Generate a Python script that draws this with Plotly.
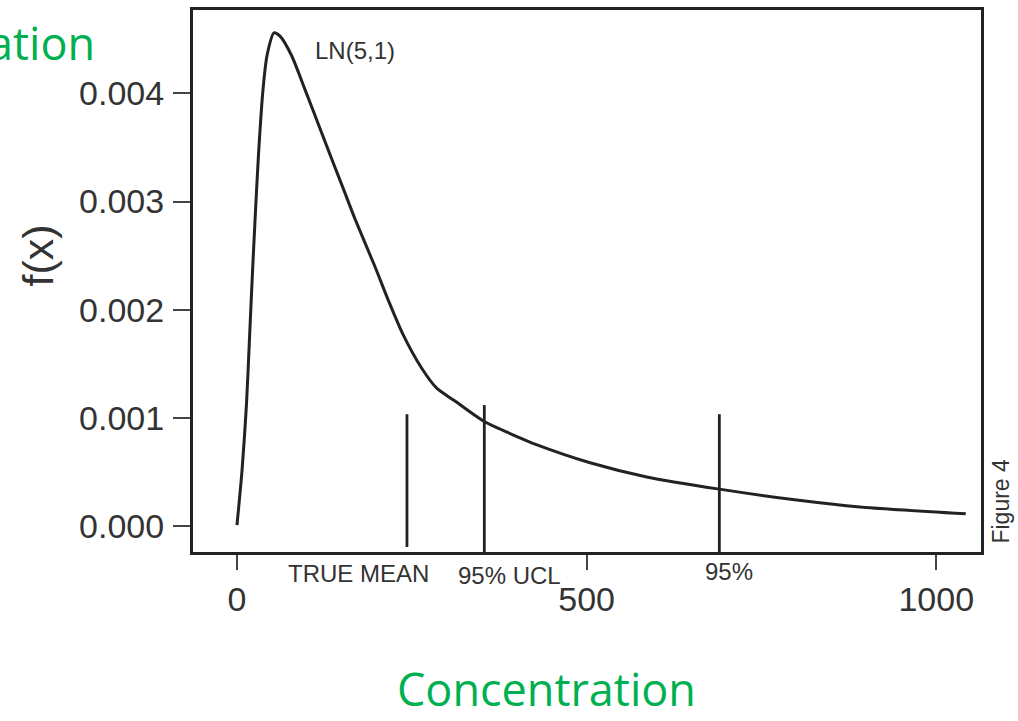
import plotly.graph_objects as go

# Lognormal LN(5,1) density
conc = [0, 7.2, 13.6, 17.9, 22.2, 25.7, 30.7, 37.2, 42.9, 52.9, 61.5, 78.2, 97.3,
        118.7, 137.3, 154.5, 168.8, 197.4, 216.0, 237.4, 264.2, 285.6,
        311.8, 352.3, 404.7, 426.2, 504.9, 586.0, 689.8, 800.5, 891.0, 1042.2]
density = [0.00001, 0.000512, 0.001128, 0.001735, 0.002351, 0.002811, 0.003427,
           0.004034, 0.004347, 0.004558, 0.004528, 0.004347, 0.004034, 0.003675,
           0.003363, 0.003078, 0.002838, 0.002397, 0.002094, 0.001772,
           0.001459, 0.001275, 0.001156, 0.000972, 0.000816, 0.000758, 0.000586,
           0.000455, 0.000342, 0.000241, 0.000177, 0.000114]

# Vertical reference markers
marker_names = ["TRUE MEAN", "95% UCL", "95%"]
marker_x = [243.1, 353.7, 689.8]
marker_top = [0.001034, 0.001119, 0.001034]
marker_bottom = [-0.000193, -0.000239, -0.000239]

x_ticks = [0, 500, 1000]
y_ticks = [0.000, 0.001, 0.002, 0.003, 0.004]

INK = "#222222"
TXT = "#333333"
GREEN = "#00B050"

fig = go.Figure()
fig.add_trace(go.Scatter(x=conc, y=density, mode="lines",
                         line=dict(color=INK, width=3, shape="spline", smoothing=0.7),
                         showlegend=False, hoverinfo="skip"))
for xv, top, bot in zip(marker_x, marker_top, marker_bottom):
    fig.add_trace(go.Scatter(x=[xv, xv], y=[bot, top], mode="lines",
                             line=dict(color=INK, width=2.8),
                             showlegend=False, hoverinfo="skip"))

axis_font = dict(family="Liberation Sans, Arial, sans-serif", size=34, color=TXT)
fig.update_xaxes(range=[-62.9, 1064], tickvals=x_ticks, ticktext=[str(v) for v in x_ticks],
                 showgrid=False, zeroline=False, showline=True, mirror=True,
                 linecolor=INK, linewidth=3, ticks="outside", ticklen=15, tickwidth=2,
                 tickcolor="#444444", tickfont=axis_font, ticklabelstandoff=0)
fig.update_yaxes(range=[-0.000239, 0.00477], tickvals=y_ticks,
                 ticktext=[f"{v:.3f}" for v in y_ticks],
                 showgrid=False, zeroline=False, showline=True, mirror=True,
                 linecolor=INK, linewidth=3, ticks="outside", ticklen=17, tickwidth=2,
                 tickcolor="#444444", tickfont=axis_font, ticklabelstandoff=2)

lab_font = dict(family="Liberation Sans, Arial, sans-serif", size=24, color=TXT)
fig.add_annotation(x=168.3, y=0.004400, xref="x", yref="y", text="LN(5,1)",
                   showarrow=False, font=lab_font, xanchor="center", yanchor="middle")
for name, xv, yp in zip(marker_names, [173.8, 389.0, 703.2], [-0.040, -0.0437, -0.0367]):
    fig.add_annotation(x=xv, y=yp, xref="x", yref="paper", text=name,
                       showarrow=False, font=lab_font, xanchor="center", yanchor="middle")

fig.add_annotation(x=-0.1965, y=0.5475, xref="paper", yref="paper", text="f(x)",
                   textangle=-90, showarrow=False, xanchor="center", yanchor="middle",
                   font=dict(family="Liberation Sans, Arial, sans-serif", size=43, color=TXT))
fig.add_annotation(x=1.0254, y=0.0931, xref="paper", yref="paper", text="Figure 4",
                   textangle=-90, showarrow=False, xanchor="center", yanchor="middle",
                   font=dict(family="Liberation Sans, Arial, sans-serif", size=23, color=TXT))

green_font = dict(family="Open Sans, sans-serif", size=45, color=GREEN)
fig.add_annotation(x=(97 - 193) / 788, y=(551.7 - 40) / 544.7, xref="paper", yref="paper",
                   text="ation", xanchor="right", yanchor="middle", showarrow=False,
                   font=green_font)
fig.add_annotation(x=0.4486, y=(551.7 - 721) / 544.7, xref="paper", yref="paper",
                   text="Concentration", xanchor="center", yanchor="bottom", borderpad=0,
                   showarrow=False, font=green_font)

fig.update_layout(width=1018, height=721, margin=dict(l=193, r=37, t=7, b=169),
                  paper_bgcolor="white", plot_bgcolor="white")

fig.write_html("out.html")
